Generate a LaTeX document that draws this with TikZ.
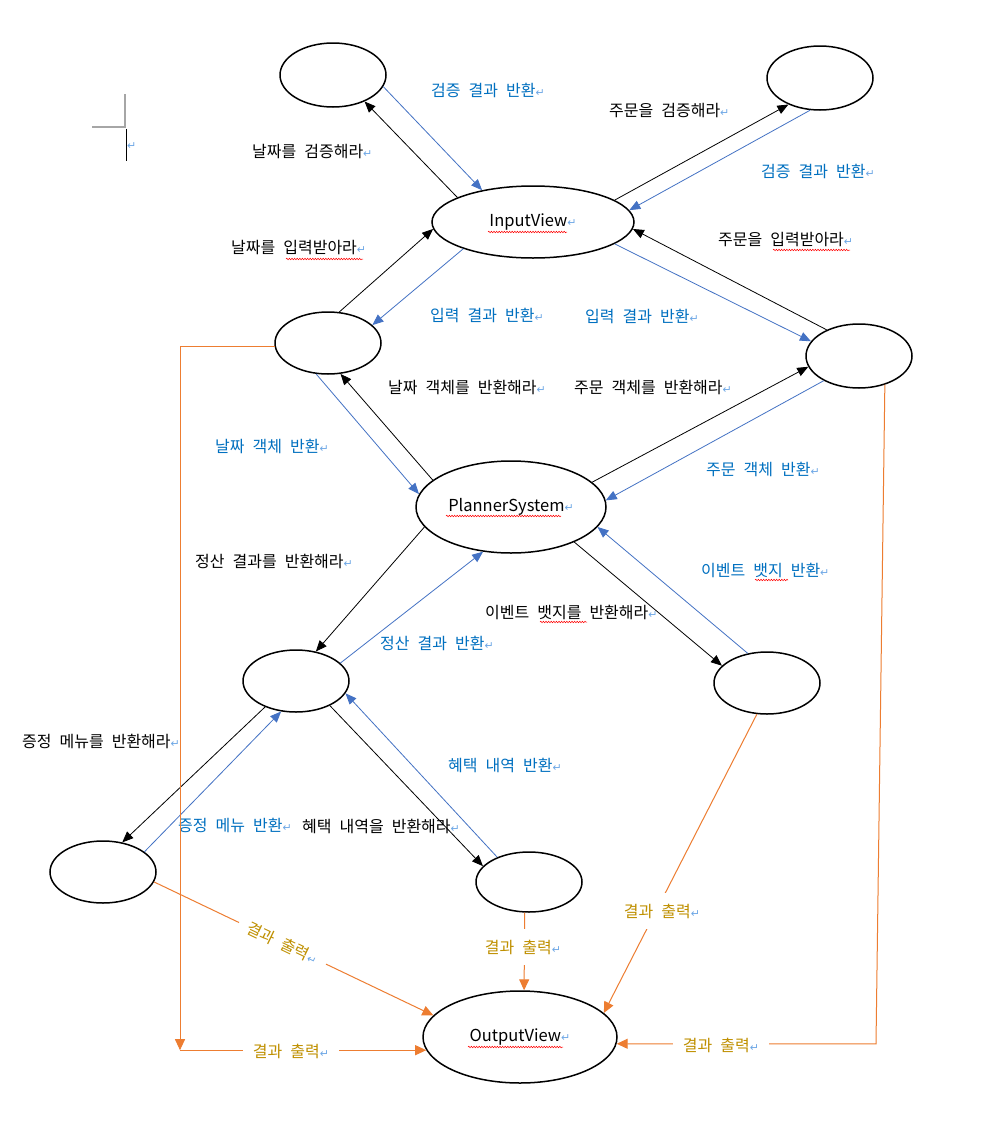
\documentclass[tikz,border=0pt]{standalone}
\usepackage{fontspec}
\setmainfont{Noto Sans CJK KR}
\newfontfamily\krfont{Noto Sans CJK KR}
\newfontfamily\dvfont{DejaVu Sans}
\usetikzlibrary{arrows.meta,decorations.pathmorphing,shapes.geometric}
\definecolor{lblblue}{HTML}{0070C0}
\definecolor{lineblue}{HTML}{4472C4}
\definecolor{orangec}{HTML}{ED7D31}
\definecolor{goldc}{HTML}{BF9000}
\definecolor{retblue}{HTML}{6FA8E6}
\newcommand\ret{{\color{retblue}\dvfont\fontsize{11}{11}\selectfont ↵}}
\newcommand\lblfont{\krfont\fontsize{16}{18}\selectfont\setlength{\spaceskip}{8pt}}
\newcommand\ellfont{\krfont\fontsize{16.5}{18}\selectfont}
\tikzset{
  ell/.style={ellipse, draw=black, line width=1.5pt, inner sep=0pt, font=\ellfont},
  lbl/.style={anchor=west, inner sep=0pt, font=\lblfont},
  blk/.style={lbl, text=black},
  blu/.style={lbl, text=lblblue},
  gld/.style={inner xsep=10pt, inner ysep=11pt, fill=white, text=goldc, font=\lblfont},
  callarrow/.style={draw=black, line width=0.8pt, -{Triangle[length=11pt,width=9pt]}},
  retarrow/.style={draw=lineblue, line width=0.8pt, -{Triangle[length=11pt,width=9pt]}},
  outarrow/.style={draw=orangec, line width=1pt, -{Triangle[length=11pt,width=10pt]}},
  outline/.style={draw=orangec, line width=1pt},
  wavy/.style={draw=red, line width=0.5pt, decorate,
    decoration={snake, amplitude=0.8pt, segment length=2.6pt}},
}
\begin{document}
\begin{tikzpicture}[x=1pt,y=-1pt]
\fill[white] (0,0) rectangle (986,1138);
\useasboundingbox (0,0) rectangle (986,1138);

% Word artefacts top-left
\draw[gray!70, line width=1.2pt] (92,127) -- (125,127) -- (125,94);
\draw[black, line width=0.8pt] (126,129) -- (126,161);
\node[anchor=west, inner sep=0pt] (cur) at (127,146) {\ret};

% ellipses
\node[ell, minimum width=106, minimum height=64] (e1) at (333,75) {};
\node[ell, minimum width=106, minimum height=64] (e2) at (820,78) {};
\node[ell, minimum width=202, minimum height=72] (iv) at (533,222) {InputView\ret};
\node[ell, minimum width=106, minimum height=62] (e4) at (328,343) {};
\node[ell, minimum width=106, minimum height=64] (e5) at (859,356) {};
\node[ell, minimum width=190, minimum height=92] (ps) at (511,507) {PlannerSystem\ret};
\node[ell, minimum width=106, minimum height=62] (e7) at (296,681) {};
\node[ell, minimum width=106, minimum height=62] (e8) at (767,683) {};
\node[ell, minimum width=106, minimum height=62] (e9) at (103,872) {};
\node[ell, minimum width=106, minimum height=60] (e10) at (529,882) {};
\node[ell, minimum width=194, minimum height=92] (ov) at (520,1037) {OutputView\ret};

% spell-check underlines
\draw[wavy] (488,232) -- (567,232);
\draw[wavy] (446,516) -- (561,516);
\draw[wavy] (468,1047) -- (563,1047);

% call / return connectors
\draw[callarrow] (iv.162) -- (e1.-40);
\draw[retarrow] (e1.-13) -- (iv.148);
\draw[callarrow] (e4.70) -- (iv.184);
\draw[retarrow] (iv.201) -- (e4.22);
\draw[callarrow] (iv.15) -- (e2.220);
\draw[retarrow] (e2.253) -- (iv.7);
\draw[callarrow] (e5.141) -- (iv.-4);
\draw[retarrow] (iv.-15) -- (e5.163);
\draw[callarrow] (ps.161) -- (e4.-68);
\draw[retarrow] (e4.249) -- (ps.172);
\draw[callarrow] (ps.17) -- (e5.192);
\draw[retarrow] (e5.215) -- (ps.4);
\draw[callarrow] (ps.-29) -- (e8.159);
\draw[retarrow] (e8.123) -- (ps.-13);
\draw[callarrow] (ps.193) -- (e7.56);
\draw[retarrow] (e7.22) -- (ps.238);
\draw[callarrow] (e7.220) -- (e9.57);
\draw[retarrow] (e9.26) -- (e7.244);
\draw[callarrow] (e7.-36) -- (e10.161);
\draw[retarrow] (e10.142) -- (e7.-14);

% labels
\node[blu] (l1) at (431,90) {검증 결과 반환\ret};
\node[blk] (l2) at (252,152) {날짜를 검증해라\ret};
\node[blk] (l3) at (231,248) {날짜를 입력받아라\ret};
\draw[wavy] (286,259) -- (363,259);
\node[blu] (l4) at (430,315) {입력 결과 반환\ret};
\node[blk] (l5) at (609,111) {주문을 검증해라\ret};
\node[blu] (l6) at (761,171) {검증 결과 반환\ret};
\node[blk] (l7) at (718,240) {주문을 입력받아라\ret};
\draw[wavy] (773,250) -- (850,250);
\node[blu] (l8) at (585,316) {입력 결과 반환\ret};
\node[blk] (l9) at (388,387) {날짜 객체를 반환해라\ret};
\node[blu] (l10) at (215,446) {날짜 객체 반환\ret};
\node[blk] (l11) at (574,387) {주문 객체를 반환해라\ret};
\node[blu] (l12) at (706,469) {주문 객체 반환\ret};
\node[blk] (l13) at (485,612) {이벤트 뱃지를 반환해라\ret};
\draw[wavy] (540,622) -- (587,622);
\node[blu] (l14) at (701,570) {이벤트 뱃지 반환\ret};
\draw[wavy] (755,580) -- (788,580);
\node[blk] (l15) at (195,561) {정산 결과를 반환해라\ret};
\node[blu] (l16) at (380,643) {정산 결과 반환\ret};
\node[blk] (l17) at (22,741) {증정 메뉴를 반환해라\ret};
\node[blu] (l18) at (178,825) {증정 메뉴 반환\ret};
\node[blk] (l19) at (302,826) {혜택 내역을 반환해라\ret};
\node[blu] (l20) at (448,765) {혜택 내역 반환\ret};

% output connectors
\draw[outarrow] (e9.-11) -- node[gld, sloped, pos=0.46] (o1) {결과 출력\ret} (ov.166);

\coordinate (lcx) at (180,0);
\coordinate (lc1) at (e4.184 -| lcx);
\coordinate (lc2) at (lcx |- ov.188);
\draw[outline, -{Triangle[length=11pt,width=10pt]}] (e4.184) -- (lc1) -- (lc2);
\draw[outarrow] (lc2) -- (ov.188);
\node[gld] (o2) at (291,1051) {결과 출력\ret};

\draw[outarrow] (e10.262) -- (ov.85);
\node[gld] (o3) at (523,947) {결과 출력\ret};

\draw[outarrow] (e8.252) -- (ov.16);
\node[gld] (o4) at (662,911) {결과 출력\ret};

\coordinate (rcx) at (876,0);
\coordinate (rc2) at (rcx |- ov.-4);
\draw[outline, -{Triangle[length=11pt,width=10pt]}] (e5.-48) -- (rc2) -- (ov.-4);
\node[gld] (o5) at (721,1045) {결과 출력\ret};
\end{tikzpicture}
\end{document}
